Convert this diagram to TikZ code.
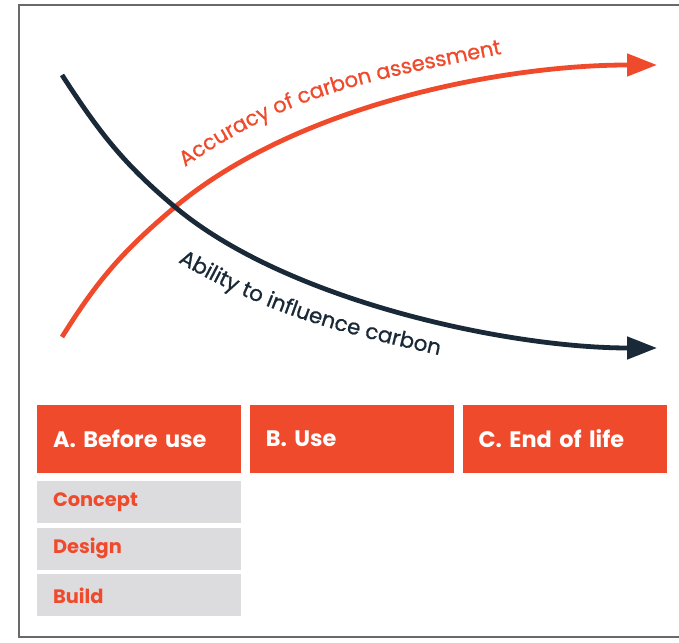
\documentclass[tikz,border=0pt]{standalone}
\usepackage{fontspec}
\setmainfont{Poppins}
\newfontfamily\curvefont[FakeBold=0.8]{Poppins}
\usetikzlibrary{positioning, arrows.meta, decorations.text}
\definecolor{carbonred}{RGB}{240,74,44}
\definecolor{inkblue}{RGB}{26,41,56}
\definecolor{stagegrey}{RGB}{220,220,222}
\definecolor{framegrey}{RGB}{105,105,105}

\begin{document}
\begin{tikzpicture}[x=0.5pt, y=0.5pt,
  stage/.style={fill=carbonred, text=white, font=\bfseries\fontsize{11.2}{14}\selectfont,
    minimum height=34pt, text width=86pt, inner xsep=8pt, align=left},
  phase/.style={fill=stagegrey, text=carbonred, font=\bfseries\fontsize{9.7}{12}\selectfont,
    minimum height=21pt, text width=86pt, inner xsep=8pt, align=left},
  curve/.style={line width=2.4pt, -{Triangle[length=15pt, width=11pt]}},
  curvelabel/.style n args={3}{decorate, decoration={text along path, text align=left,
    text color=#1, text={|\curvefont\fontsize{#2}{13}\selectfont|#3}}}]
\useasboundingbox (0,0) rectangle (679,642);
\draw [framegrey, line width=1pt] (679,637) -- (19,637) -- (19,5) -- (679,5);

% the two curves, dark one on top
\draw [curve, carbonred] (62,305) to[out=58,in=-140] (175,435) to[out=40,in=180,looseness=0.8] (657,577);
\draw [curve, inkblue] (62,567) to[out=-57,in=140] (175,435) to[out=-40,in=180,looseness=0.75] (657,294);
\path [curvelabel={carbonred}{10.5}{Accuracy of carbon assessment}] (185,475) to[out=35,in=192] (525,593);
\path [curvelabel={inkblue}{10.7}{Ability to influence carbon}] (178,380) to[out=-30,in=167] (460,282);

% life cycle stages
\node [stage] (before) at (139,203) {A. Before use};
\node [stage, right=4pt of before] (use) {B. Use};
\node [stage, right=4pt of use] (endlife) {C. End of life};
\node [phase, below=3.5pt of before] (concept) {Concept};
\node [phase, below=2pt of concept] (design) {Design};
\node [phase, below=2pt of design] (build) {Build};
\end{tikzpicture}
\end{document}
